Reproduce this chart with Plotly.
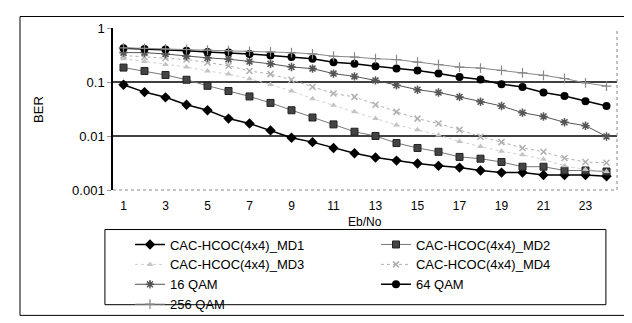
import math
import plotly.graph_objects as go

eb_no = list(range(1, 25))
md1 = [0.089, 0.065, 0.052, 0.038, 0.030, 0.021, 0.017, 0.0127, 0.0093, 0.0077, 0.0060, 0.0048,
       0.0040, 0.0035, 0.0031, 0.0028, 0.0026, 0.0023, 0.0021, 0.0021, 0.0019, 0.0019, 0.0019, 0.0018]
md2 = [0.185, 0.16, 0.135, 0.11, 0.085, 0.068, 0.054, 0.041, 0.030, 0.022, 0.0164, 0.012,
       0.0100, 0.0074, 0.0060, 0.0051, 0.0041, 0.0038, 0.0033, 0.0027, 0.0027, 0.0023, 0.0023, 0.0022]
md3 = [0.27, 0.24, 0.21, 0.19, 0.16, 0.14, 0.115, 0.09, 0.068, 0.049, 0.037, 0.028,
       0.021, 0.016, 0.013, 0.0104, 0.0079, 0.0064, 0.0052, 0.0045, 0.0037, 0.0028, 0.0024, 0.0022]
md4 = [0.31, 0.29, 0.28, 0.26, 0.23, 0.20, 0.16, 0.14, 0.11, 0.081, 0.061, 0.053,
       0.038, 0.028, 0.021, 0.017, 0.013, 0.0097, 0.0077, 0.0060, 0.0051, 0.0039, 0.0033, 0.0032]
qam16 = [0.35, 0.35, 0.33, 0.30, 0.28, 0.265, 0.24, 0.217, 0.19, 0.177, 0.143, 0.127,
         0.107, 0.087, 0.072, 0.064, 0.053, 0.043, 0.036, 0.027, 0.023, 0.018, 0.0155, 0.0098]
qam64 = [0.42, 0.41, 0.40, 0.38, 0.36, 0.35, 0.33, 0.31, 0.29, 0.27, 0.233, 0.218,
         0.195, 0.177, 0.164, 0.143, 0.124, 0.111, 0.091, 0.081, 0.064, 0.055, 0.044, 0.036]
qam256 = [0.43, 0.42, 0.41, 0.40, 0.39, 0.38, 0.37, 0.36, 0.35, 0.333, 0.30, 0.29,
          0.27, 0.26, 0.233, 0.209, 0.189, 0.181, 0.164, 0.147, 0.133, 0.116, 0.096, 0.084]

names = ["CAC-HCOC(4x4)_MD1", "CAC-HCOC(4x4)_MD2", "CAC-HCOC(4x4)_MD3",
         "CAC-HCOC(4x4)_MD4", "16 QAM", "64 QAM", "256 QAM"]
y_ticks = [0.001, 0.01, 0.1, 1]
y_tick_text = ["0.001", "0.01", "0.1", "1"]
y_grid = [0.01, 0.1]
x_labels = list(range(1, 24, 2))

series = [md1, md2, md3, md4, qam16, qam64, qam256]
styles = [
    dict(line=dict(color="#000000", width=1.5), marker=dict(symbol="diamond", size=8, color="#000000")),
    dict(line=dict(color="#777777", width=1), marker=dict(symbol="square", size=7, color="#444444",
                                                            line=dict(color="#222222", width=1))),
    dict(line=dict(color="#d0d0d0", width=1, dash="dot"), marker=dict(symbol="triangle-up", size=6, color="#c4c4c4")),
    dict(line=dict(color="#b0b0b0", width=1, dash="dot"), marker=dict(symbol="x-thin-open", size=6,
                                                                        line=dict(color="#999999", width=1.5))),
    dict(line=dict(color="#555555", width=1), marker=dict(symbol="asterisk-open", size=7,
                                                            line=dict(color="#111111", width=1.5))),
    dict(line=dict(color="#000000", width=1.5), marker=dict(symbol="circle", size=8, color="#000000")),
    dict(line=dict(color="#888888", width=1), marker=dict(symbol="cross-thin-open", size=7,
                                                            line=dict(color="#444444", width=1.2))),
]

fig = go.Figure()
for name, vals, st in zip(names, series, styles):
    fig.add_trace(go.Scatter(x=eb_no, y=vals, name=name, mode="lines+markers", **st))

font_main = "Arial, Liberation Sans, sans-serif"
xr = [eb_no[0] - 0.5, eb_no[-1] + 0.5]
yr = [math.log10(y_ticks[0]), math.log10(y_ticks[-1])]

def yfrac(v):
    return (math.log10(v) - yr[0]) / (yr[1] - yr[0])

shapes = [
    dict(type="line", xref="paper", yref="paper", x0=0, x1=1, y0=yfrac(g), y1=yfrac(g),
         line=dict(color="#000000", width=1.3), layer="below")
    for g in y_grid
]
shapes += [
    dict(type="line", xref="paper", yref="paper", x0=0, x1=1, y0=0, y1=0,
         line=dict(color="#888888", width=1, dash="dot")),
    dict(type="line", xref="paper", yref="paper", x0=1, x1=1, y0=0, y1=1,
         line=dict(color="#888888", width=1, dash="dot")),
    dict(type="rect", xref="paper", yref="paper", x0=-0.016, x1=0.978, y0=-0.244, y1=-0.708,
         line=dict(color="#000000", width=1)),
    dict(type="rect", xref="paper", yref="paper", x0=-0.1845, x1=1.0397, y0=1.071, y1=-0.774,
         line=dict(color="#000000", width=1)),
]

fig.update_layout(
    width=632, height=323,
    margin=dict(l=105, r=23, t=20, b=135),
    paper_bgcolor="white", plot_bgcolor="rgba(0,0,0,0)",
    font=dict(family=font_main, size=13, color="#000000"),
    showlegend=True,
    legend=dict(orientation="h", x=0.0337, xanchor="left", y=-0.244, yanchor="top",
                entrywidth=201, entrywidthmode="pixels",
                font=dict(family=font_main, size=13, color="#000000"),
                bgcolor="rgba(0,0,0,0)", borderwidth=0),
    xaxis=dict(range=xr, tickvals=x_labels, ticktext=[str(v) for v in x_labels],
               ticks="", showgrid=False, showline=False, zeroline=False,
               ticklabelstandoff=7, tickfont=dict(size=12)),
    xaxis2=dict(range=xr, overlaying="x", anchor="y", side="top",
                tickvals=[v + 0.5 for v in eb_no[:-1]], ticks="inside", ticklen=5,
                tickcolor="#000000", showticklabels=False, showgrid=False,
                showline=True, linecolor="#000000", linewidth=1.5, zeroline=False),
    yaxis=dict(type="log", range=yr, tickvals=y_ticks, ticktext=y_tick_text,
               ticks="outside", ticklen=4, tickcolor="#999999", showgrid=False,
               showline=True, linecolor="#000000", linewidth=1.5, zeroline=False,
               tickfont=dict(size=13)),
    shapes=shapes,
    annotations=[
        dict(text="BER", xref="paper", yref="paper", x=-0.149, y=0.5, textangle=-90,
             showarrow=False, font=dict(size=13), xanchor="center", yanchor="middle"),
        dict(text="Eb/No", xref="paper", yref="paper", x=0.5, y=-0.196,
             showarrow=False, font=dict(size=12), xanchor="center", yanchor="middle"),
    ],
)

fig.write_html("out.html")
